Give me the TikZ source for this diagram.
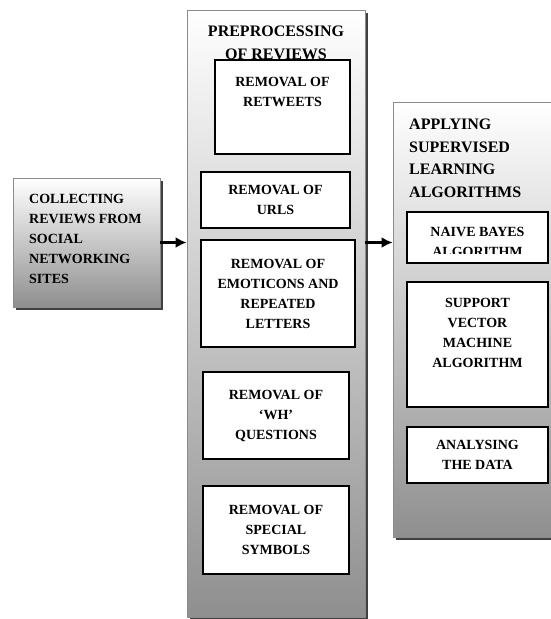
\documentclass[tikz,border=0pt]{standalone}
\usepackage{fontspec}
\setmainfont{Liberation Serif}
\usetikzlibrary{arrows.meta,shadows}
\tikzset{
        outbox/.style={draw=black!45, line width=0.8pt, top color=white, bottom color=black!44,
                drop shadow={shadow xshift=3pt, shadow yshift=-3pt, fill=black!75, opacity=1}},
        inbox/.style={draw=black, line width=1.2pt, fill=white, align=center, inner sep=2pt,
                font=\bfseries\fontsize{14}{20}\selectfont},
        lbl/.style={align=center, inner sep=0pt, font=\bfseries\fontsize{14}{20}\selectfont},
        ttl/.style={align=left, inner sep=0pt, font=\bfseries\fontsize{16}{22.5}\selectfont},
        flow/.style={line width=2.3pt, -{Latex[length=11pt,width=11pt]}}
}
\begin{document}
\begin{tikzpicture}[x=1pt, y=-1pt]
        \useasboundingbox (0,0) rectangle (550,619);
        \node (v0) [outbox, minimum width=147, minimum height=129] at (86.5, 242.5) {};
        \node (v1) [outbox, minimum width=178, minimum height=607] at (276, 313.5) {};
        \node (v2) [outbox, minimum width=167, minimum height=435] at (476.5, 319.5) {};
        \node (t0) [lbl, align=left, anchor=west] at (29, 239) {COLLECTING\\REVIEWS FROM\\SOCIAL\\NETWORKING\\SITES};
        \node (t1) [ttl, align=center] at (276, 43) {PREPROCESSING\\OF REVIEWS};
        \node (t2) [ttl, anchor=west] at (409, 158.5) {APPLYING\\SUPERVISED\\LEARNING\\ALGORITHMS};
        \node (v3) [inbox, minimum width=135, minimum height=94] at (282.5, 107) {};
        \node (t3) [lbl] at (282.5, 92) {REMOVAL OF\\RETWEETS};
        \node (v4) [inbox, minimum width=149, minimum height=56] at (275.5, 200) {REMOVAL OF\\URLS};
        \node (v5) [inbox, minimum width=154, minimum height=107] at (278, 293.5) {REMOVAL OF\\EMOTICONS AND\\REPEATED\\LETTERS};
        \node (v6) [inbox, minimum width=146, minimum height=87] at (276, 415.5) {REMOVAL OF\\`WH'\\QUESTIONS};
        \node (v7) [inbox, minimum width=146, minimum height=88] at (276, 530) {REMOVAL OF\\SPECIAL\\SYMBOLS};
        \node (v8) [inbox, minimum width=141, minimum height=51] at (477.5, 237.5) {};
        \begin{scope}
                \clip (v8.north west) rectangle ([yshift=10pt]v8.south east);
                \node (t4) [lbl] at (477.5, 242) {NAIVE BAYES\\ALGORITHM};
        \end{scope}
        \node (v9) [inbox, minimum width=141, minimum height=125] at (477.5, 344.5) {};
        \node (t5) [lbl] at (477.5, 333) {SUPPORT\\VECTOR\\MACHINE\\ALGORITHM};
        \node (v10) [inbox, minimum width=141, minimum height=56] at (477.5, 455) {ANALYSING\\THE DATA};
        \draw[flow] (v0.east) -- (v0.east -| v1.west);
        \draw[flow] (v1.east |- v0.east) -- (v2.west |- v0.east);
\end{tikzpicture}
\end{document}
